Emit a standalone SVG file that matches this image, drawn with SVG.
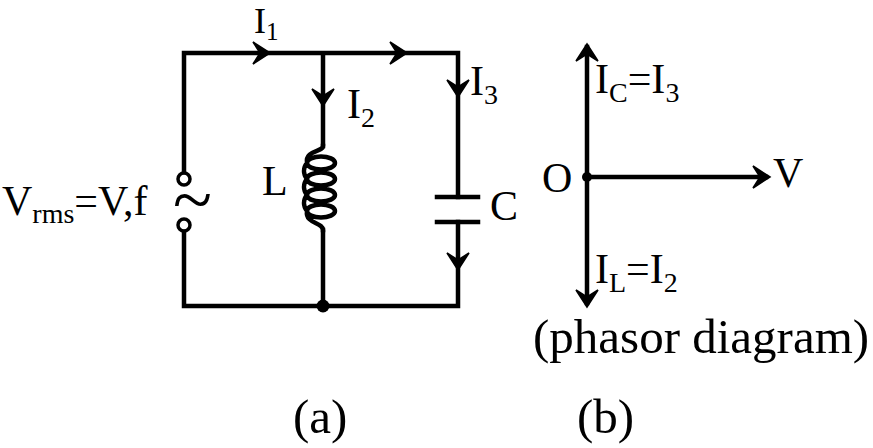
<svg xmlns="http://www.w3.org/2000/svg" xmlns:xlink="http://www.w3.org/1999/xlink" width="873" height="448" viewBox="0 0 873 448">
<style>
.w{stroke:#000;stroke-width:4.5;fill:none;stroke-linecap:square}
.t{font-family:"Liberation Serif","Times New Roman",serif;font-size:42px;fill:#000}
.s{font-size:28px}
.big{font-size:49px}
.ar{fill:#000;stroke:#000;stroke-width:1.5;stroke-linejoin:miter}
</style>
<defs>
<path id="arr" d="M0,0 L-17,-11 L-10,0 L-17,11 Z"/>
</defs>
<rect width="873" height="448" fill="#fff"/>
<g id="connectors">
<path class="w" d="M184,172 V53 H458 V197 M458,222 V306 H184 V232 M323,53 V146 M323,230 V306"/>
</g>
<g id="arrows" class="ar">
<use xlink:href="#arr" transform="translate(270,53)"/>
<use xlink:href="#arr" transform="translate(407,53)"/>
<use xlink:href="#arr" transform="translate(323,106) rotate(90)"/>
<use xlink:href="#arr" transform="translate(458,97) rotate(90)"/>
<use xlink:href="#arr" transform="translate(458,270) rotate(90)"/>
</g>
<g id="source">
<circle cx="184" cy="179" r="6" fill="none" stroke="#000" stroke-width="3.5"/>
<circle cx="184" cy="225" r="6" fill="none" stroke="#000" stroke-width="3.5"/>
<text class="t" x="173" y="224" style="font-size:72px">~</text>
<text class="t" x="2" y="215">V<tspan class="s" dy="8">rms</tspan><tspan dy="-8">=V,f</tspan></text>
</g>
<g id="inductor">
<path class="w" stroke-width="4" d="M323,146 C323,152 305,150 307,163 A14,6.5 0 1,1 335,163 A14,6.5 0 1,1 307,163 C303,168 303,174 307,179 A14,6.5 0 1,1 335,179 A14,6.5 0 1,1 307,179 C303,184 303,190 307,195 A14,6.5 0 1,1 335,195 A14,6.5 0 1,1 307,195 C303,200 303,206 307,211 A14,6.5 0 1,1 335,211 A14,6.5 0 1,1 307,211 C305,224 323,222 323,230"/>
<text class="t" x="262" y="195">L</text>
</g>
<g id="capacitor">
<path class="w" stroke-linecap="butt" d="M437,197 H478 M437,222 H478"/>
<text class="t" x="490" y="220">C</text>
</g>
<g id="junction">
<circle cx="323" cy="306" r="6.5" fill="#000"/>
</g>
<g id="current-labels">
<text class="t" x="254" y="33" style="font-size:36px">I<tspan style="font-size:25px" dy="7">1</tspan></text>
<text class="t" x="347" y="118">I<tspan class="s" dy="9">2</tspan></text>
<text class="t" x="470" y="95">I<tspan class="s" dy="9">3</tspan></text>
</g>
<g id="phasor">
<path class="w" stroke-width="4" stroke-linecap="butt" d="M587,47 V303 M587,177 H766"/>
<g class="ar">
<use xlink:href="#arr" transform="translate(587,44) rotate(-90)"/>
<use xlink:href="#arr" transform="translate(587,307) rotate(90)"/>
<use xlink:href="#arr" transform="translate(770,177)"/>
</g>
<circle cx="587" cy="177" r="5" fill="#000"/>
<text class="t" x="595" y="93">I<tspan class="s" dy="9">C</tspan><tspan dy="-9">=I</tspan><tspan class="s" dy="9">3</tspan></text>
<text class="t" x="542" y="192">O</text>
<text class="t" x="773" y="187">V</text>
<text class="t" x="595" y="283">I<tspan class="s" dy="9">L</tspan><tspan dy="-9">=I</tspan><tspan class="s" dy="9">2</tspan></text>
<text class="t big" x="533" y="353">(phasor diagram)</text>
</g>
<g id="captions">
<text class="t big" x="293" y="433">(a)</text>
<text class="t big" x="577" y="433">(b)</text>
</g>
</svg>
